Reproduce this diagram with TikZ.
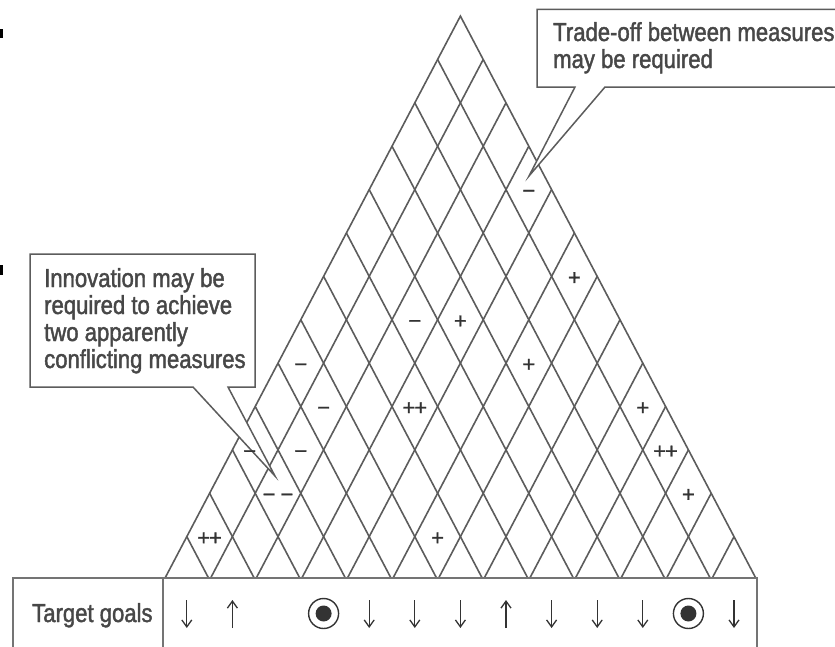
\documentclass[tikz,border=0pt]{standalone}
\usepackage{fontspec}
\usetikzlibrary{arrows.meta}
\newfontfamily\labelfont{Liberation Sans}[FakeStretch=0.85,FakeBold=1.6]
\newfontfamily\signfont{Liberation Sans}[FakeBold=1]
\definecolor{gridline}{gray}{0.36}
\definecolor{ink}{gray}{0.2}
\begin{document}
\begin{tikzpicture}[x=1pt,y=-1pt,
  grid/.style={draw=gridline,line width=1.6pt},
  frame/.style={draw=gridline!85,line width=1.5pt},
  callout/.style={draw=gridline,fill=white,line width=1.5pt,line join=miter},
  calltext/.style={font=\labelfont\fontsize{26}{27}\selectfont,text=ink!90,anchor=base west,inner sep=0pt},
  corr/.style={font=\signfont\fontsize{22}{22}\selectfont,text=ink,anchor=base,inner sep=0pt},
  goal/.style={draw=ink,line width=1.3pt,-{Straight Barb[length=7pt,width=10pt]}},
  ring/.style={circle,draw=ink,line width=1.4pt,minimum size=30pt,inner sep=0pt},
]
\useasboundingbox (0,0) rectangle (835,646);
\clip (0,0) rectangle (835,646);

% small printer's marks on the left margin
\fill[black] (0,29.3) rectangle (3,38.3);
\fill[black] (0,265) rectangle (3,275);

% correlation roof: lines parallel to the two sides from every column boundary
\begin{scope}
  \clip (0,0) rectangle (835,578);
  \clip (164,580) -- (460.4,16.1) -- (756.8,580) -- cycle;
  \foreach \k in {1,...,12} {
    \draw[grid] ({164+\k*45.6},580) -- ++(320,-608.8);
    \draw[grid] ({164+\k*45.6},580) -- ++(-320,-608.8);
  }
\end{scope}
\draw[grid,line join=miter] (165.05,578) -- (460.4,16.1) -- (755.75,578);

% target goals row
\draw[frame] (13,650) -- (13,578) -- (757,578) -- (757,650);
\draw[frame] (163,578) -- (163,650);
\node[calltext] (goals) at (32,622) {Target goals};

\draw[goal] (186.8,600) -- (186.8,628);
\draw[goal] (232.4,628) -- (232.4,600);
\node[ring] (t4) at (323.6,613.5) {};
\fill[ink] (t4.center) circle (8);
\draw[goal] (369.2,600) -- (369.2,628);
\draw[goal] (414.8,600) -- (414.8,628);
\draw[goal] (460.4,600) -- (460.4,628);
\draw[goal] (506,628) -- (506,600);
\draw[goal] (551.6,600) -- (551.6,628);
\draw[goal] (597.2,600) -- (597.2,628);
\draw[goal] (642.8,600) -- (642.8,628);
\node[ring] (t12) at (688.4,613.5) {};
\fill[ink] (t12.center) circle (8);
\draw[goal] (734,600) -- (734,628);

% callout: trade-off
\coordinate (tipA) at (529,176);
\draw[callout] (537,9.3) -- (850,9.3) -- (850,87) -- (605,87) -- (tipA) -- (575,87) -- (537,87) -- cycle;
\node[calltext] (tradeA) at (553,41) {Trade-off between measures};
\node[calltext] (tradeB) at (553,68) {may be required};

% callout: innovation
\coordinate (tipB) at (275,476);
\draw[callout] (30,254) -- (255,254) -- (255,387) -- (228,387) -- (tipB) -- (193,387) -- (30,387) -- cycle;
\node[calltext] (innovA) at (44,287) {Innovation may be};
\node[calltext] (innovB) at (44,314) {required to achieve};
\node[calltext] (innovC) at (44,341) {two apparently};
\node[calltext] (innovD) at (44,368) {conflicting measures};

% correlation signs: cell for columns a<b sits at x = 164+(a+b-1)*22.8, level b-a;
% the optional first argument nudges a sign sideways
\newcommand\corrsign[4][0]{%
  \node[corr] (s#2-#3) at ({164+(#2+#3-1)*22.8+#1},{580-(#3-#2)*43.38+8.5}) {#4};}
\corrsign{4}{13}{−}
\corrsign{6}{13}{+}
\corrsign{3}{9}{−}
\corrsign{4}{10}{+}
\corrsign{1}{6}{−}
\corrsign{6}{11}{+}
\corrsign{2}{6}{−}
\corrsign{4}{8}{+\kern-1pt+}
\corrsign{9}{13}{+}
\corrsign[-5.5]{1}{4}{−}
\corrsign{2}{5}{−}
\corrsign{10}{13}{+\kern-1pt+}
\corrsign{2}{4}{−\kern5pt−}
\corrsign{11}{13}{+}
\corrsign{1}{2}{+\kern-1pt+}
\corrsign{6}{7}{+}
\end{tikzpicture}
\end{document}
